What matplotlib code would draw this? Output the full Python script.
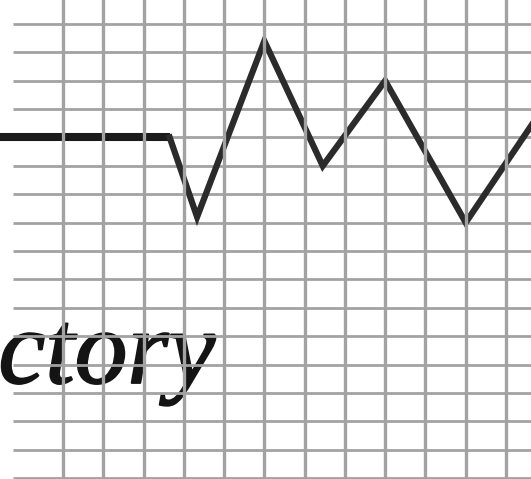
import matplotlib
matplotlib.use("Agg")
import matplotlib.pyplot as plt
import matplotlib.patheffects as pe

# grid paper, one unit = one cell
grid_cols = list(range(0, 12))
grid_rows = list(range(0, 17))

# flat lead-in, then the zigzag
flat_x = [-2.0, 2.65]
flat_y = [12.0, 12.0]
zig_x = [2.65, 3.33, 5.0, 6.45, 8.0, 10.0, 12.0]
zig_y = [12.0, 9.2, 15.4, 11.0, 14.0, 9.0, 13.2]

label = "ctory"

fig = plt.figure(figsize=(5.31, 4.79), dpi=100)
ax = fig.add_axes([0, 0, 1, 1])
ax.set_xlim(-63 / 40.27, (531 - 63) / 40.27)
ax.set_ylim((478 - 479) / 28.375, 478 / 28.375)
ax.axis("off")

grid_color = "#a2a2a2"
for c in grid_cols:
    ax.axvline(c, color=grid_color, lw=2.4, zorder=5)
for r in grid_rows:
    ax.plot([-1.24, 12], [r, r], color=grid_color, lw=2.0, zorder=2, solid_capstyle="butt")

ax.plot(flat_x, flat_y, color="#1a1a1a", lw=5.8, zorder=3, solid_capstyle="butt")
ax.plot(zig_x, zig_y, color="#2b2b2b", lw=4.5, zorder=3, solid_joinstyle="miter")

# slight stroke to thicken the regular italic a little
ax.text(3.78, 3.35, label, ha="right", va="baseline", fontsize=76,
        family="Liberation Serif", style="italic", color="#141414", zorder=1,
        path_effects=[pe.withStroke(linewidth=1.4, foreground="#141414")])

fig.savefig("out.png", dpi=100, facecolor="white")
